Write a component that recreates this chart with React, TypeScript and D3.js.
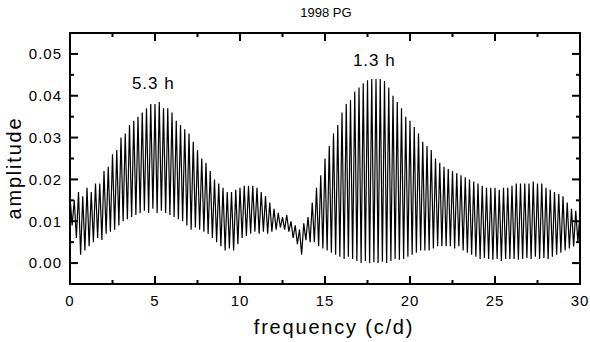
import React from 'react';
import * as d3 from 'd3';

// periodogram of 1998 PG
// peaks sit at f = 0, 0.25, 0.5 ... 30 ; troughs halfway between them
const STEP = 0.125;
const title = '1998 PG';

const peakAmp = [
  0.016, 0.015, 0.017, 0.016,
  0.018, 0.017, 0.019, 0.019,
  0.022, 0.023, 0.026, 0.027,
  0.030, 0.031, 0.033, 0.034,
  0.035, 0.036, 0.037, 0.038,
  0.038, 0.0385, 0.037, 0.037,
  0.036, 0.034, 0.033, 0.032,
  0.031, 0.029, 0.027, 0.025,
  0.024, 0.022, 0.020, 0.019,
  0.018, 0.017, 0.017, 0.0175,
  0.018, 0.0185, 0.0185, 0.0185,
  0.018, 0.017, 0.016, 0.0145,
  0.013, 0.012, 0.011, 0.0115,
  0.010, 0.009, 0.008, 0.0095,
  0.011, 0.0145, 0.018, 0.021,
  0.025, 0.028, 0.031, 0.033,
  0.036, 0.038, 0.039, 0.041,
  0.042, 0.043, 0.0437, 0.044,
  0.044, 0.044, 0.0435, 0.042,
  0.040, 0.0385, 0.037, 0.035,
  0.034, 0.0325, 0.031, 0.029,
  0.028, 0.027, 0.025, 0.024,
  0.023, 0.0225, 0.022, 0.0215,
  0.021, 0.0205, 0.020, 0.0195,
  0.019, 0.0185, 0.018, 0.018,
  0.018, 0.0175, 0.018, 0.018,
  0.0185, 0.019, 0.019, 0.019,
  0.019, 0.0195, 0.019, 0.019,
  0.018, 0.0175, 0.017, 0.0165,
  0.016, 0.0145, 0.013, 0.0125,
  0.012,
];

const troughAmp = [
  0.009, 0.006, 0.002, 0.003,
  0.004, 0.005, 0.006, 0.0055,
  0.007, 0.0075, 0.008, 0.009,
  0.010, 0.0105, 0.011, 0.0115,
  0.012, 0.0125, 0.012, 0.013,
  0.012, 0.0125, 0.012, 0.0115,
  0.011, 0.0105, 0.010, 0.009,
  0.008, 0.0085, 0.008, 0.0075,
  0.007, 0.006, 0.005, 0.004,
  0.003, 0.0035, 0.003, 0.0045,
  0.006, 0.0065, 0.007, 0.0075,
  0.007, 0.0075, 0.007, 0.0075,
  0.008, 0.0085, 0.008, 0.0075,
  0.006, 0.0045, 0.002, 0.0055,
  0.005, 0.005, 0.004, 0.0035,
  0.003, 0.0025, 0.002, 0.0015,
  0.001, 0.0015, 0.001, 0.0005,
  0.000, 0.0005, 0.000, 0.0002,
  0.000, 0.0003, 0.000, 0.0005,
  0.001, 0.0008, 0.001, 0.0015,
  0.002, 0.0025, 0.003, 0.003,
  0.003, 0.0035, 0.004, 0.004,
  0.004, 0.004, 0.0035, 0.004,
  0.003, 0.0025, 0.002, 0.0015,
  0.001, 0.0012, 0.001, 0.0008,
  0.001, 0.0005, 0.001, 0.001,
  0.001, 0.0008, 0.001, 0.0012,
  0.001, 0.0015, 0.001, 0.0012,
  0.001, 0.0015, 0.002, 0.0025,
  0.003, 0.0035, 0.004, 0.005,
];

const xTicks = [0, 5, 10, 15, 20, 25, 30];
const xMinor = [2.5, 7.5, 12.5, 17.5, 22.5, 27.5];
const yTicks = [0, 0.01, 0.02, 0.03, 0.04, 0.05];
const yMinor = [0.005, 0.015, 0.025, 0.035, 0.045];
const peakNames = ['5.3 h', '1.3 h'];
const peakFreq = [4.9, 17.9];
const peakTop = [0.0416, 0.0471];

const W = 590;
const H = 342;
const margin = { left: 70, right: 10, top: 33, bottom: 58 };
const font = "'Liberation Sans', Arial, sans-serif";

export default function App() {
  const x = d3.scaleLinear().domain([0, 30]).range([margin.left, W - margin.right]);
  const y = d3.scaleLinear().domain([-0.005, 0.055]).range([H - margin.bottom, margin.top]);

  // interleave peaks and troughs
  const pts: [number, number][] = [];
  peakAmp.forEach((p, i) => {
    pts.push([i * 2 * STEP, p]);
    if (i < troughAmp.length) pts.push([(i * 2 + 1) * STEP, troughAmp[i]]);
  });

  const line = d3.line<[number, number]>()
    .x(d => x(d[0]))
    .y(d => y(d[1]));

  const x0 = x(0), x1 = x(30), yb = y.range()[0], yt = y.range()[1];

  return (
    <svg width={W} height={H} style={{ position: 'absolute', left: 0, top: 0, background: '#fff' }}
      fontFamily={font}>
      <text x={326} y={17} textAnchor="middle" fontSize={13}>{title}</text>

      <path d={line(pts) || ''} fill="none" stroke="#000" strokeWidth={1.2} />

      {/* frame */}
      <rect x={x0} y={yt} width={x1 - x0} height={yb - yt} fill="none" stroke="#000" strokeWidth={2} />

      {xTicks.map(t => (
        <g key={'x' + t}>
          <line x1={x(t)} x2={x(t)} y1={yb} y2={yb - 8} stroke="#000" strokeWidth={2} />
          <line x1={x(t)} x2={x(t)} y1={yt} y2={yt + 8} stroke="#000" strokeWidth={2} />
          <text x={x(t)} y={306} textAnchor="middle" fontSize={15} letterSpacing={1}>{t}</text>
        </g>
      ))}
      {xMinor.map(t => (
        <g key={'xm' + t}>
          <line x1={x(t)} x2={x(t)} y1={yb} y2={yb - 4} stroke="#000" strokeWidth={2} />
          <line x1={x(t)} x2={x(t)} y1={yt} y2={yt + 4} stroke="#000" strokeWidth={2} />
        </g>
      ))}
      {yTicks.map(t => (
        <g key={'y' + t}>
          <line x1={x0} x2={x0 + 8} y1={y(t)} y2={y(t)} stroke="#000" strokeWidth={2} />
          <line x1={x1} x2={x1 - 8} y1={y(t)} y2={y(t)} stroke="#000" strokeWidth={2} />
          <text x={62} y={y(t)} dy="0.36em" textAnchor="end" fontSize={15} letterSpacing={1}>
            {d3.format('.2f')(t)}
          </text>
        </g>
      ))}
      {yMinor.map(t => (
        <g key={'ym' + t}>
          <line x1={x0} x2={x0 + 4} y1={y(t)} y2={y(t)} stroke="#000" strokeWidth={2} />
          <line x1={x1} x2={x1 - 4} y1={y(t)} y2={y(t)} stroke="#000" strokeWidth={2} />
        </g>
      ))}

      {peakNames.map((n, i) => (
        <text key={n} x={x(peakFreq[i])} y={y(peakTop[i])} textAnchor="middle" fontSize={17} letterSpacing={1}>
          {n}
        </text>
      ))}

      <text x={334} y={334} textAnchor="middle" fontSize={20} letterSpacing={1.8}>frequency (c/d)</text>
      <text transform="translate(21,168) rotate(-90)" textAnchor="middle" fontSize={20} letterSpacing={1.8}>
        amplitude
      </text>
    </svg>
  );
}
